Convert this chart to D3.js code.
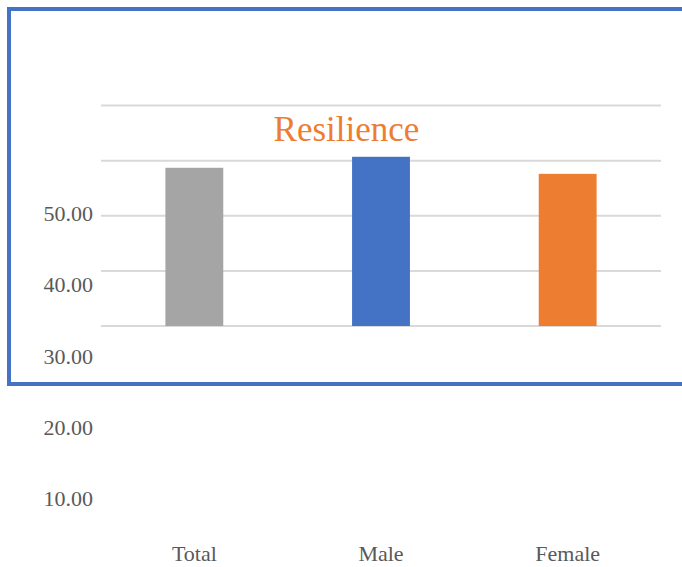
<!DOCTYPE html>
<html>
<head>
<meta charset="utf-8">
<script src="https://cdn.jsdelivr.net/npm/d3@7"></script>
<style>
  html, body { margin: 0; padding: 0; background: #fff; }
  svg { display: block; }
</style>
</head>
<body>
<svg id="chart" width="682" height="567"></svg>
<script>
// Resilience scores by group
const categories = ["Total", "Male", "Female"];
const values = [28.7, 30.7, 27.6];
const barColors = ["#A5A5A5", "#4472C4", "#ED7D31"];
const tickValues = [10, 20, 30, 40, 50];
const tickLabels = ["10.00", "20.00", "30.00", "40.00", "50.00"];
const title = "Resilience";

const svg = d3.select("#chart");
const font = "'Liberation Serif', 'Times New Roman', serif";

// plot geometry
const plot = { left: 101, right: 661, top: 105.5, bottom: 326 };

const x = d3.scaleBand()
  .domain(categories)
  .range([plot.left, plot.right])
  .paddingInner(0.69)
  .paddingOuter(0.345);

const y = d3.scaleLinear()
  .domain([0, 40])
  .range([plot.bottom, plot.top]);

// value labels along the left side
const yLabel = d3.scaleLinear()
  .domain([0, 50])
  .range([577.25, 221]);

// gridlines
svg.append("g")
  .selectAll("line")
  .data(y.ticks(4))
  .join("line")
  .attr("x1", plot.left)
  .attr("x2", plot.right)
  .attr("y1", d => y(d))
  .attr("y2", d => y(d))
  .attr("stroke", "#D9D9D9")
  .attr("stroke-width", 2);

// bars
svg.append("g")
  .selectAll("rect")
  .data(categories)
  .join("rect")
  .attr("x", d => x(d))
  .attr("width", x.bandwidth())
  .attr("y", (d, i) => y(values[i]))
  .attr("height", (d, i) => y(0) - y(values[i]))
  .attr("fill", (d, i) => barColors[i]);

// title
svg.append("text")
  .attr("x", 346.5)
  .attr("y", 141)
  .attr("text-anchor", "middle")
  .attr("font-family", font)
  .attr("font-size", 35)
  .attr("fill", "#ED7D31")
  .text(title);

// outer frame
svg.append("rect")
  .attr("x", 9)
  .attr("y", 9)
  .attr("width", 700)
  .attr("height", 375)
  .attr("fill", "none")
  .attr("stroke", "#4472C4")
  .attr("stroke-width", 4);

// y labels
svg.append("g")
  .selectAll("text")
  .data(tickValues)
  .join("text")
  .attr("x", 93)
  .attr("y", d => yLabel(d))
  .attr("text-anchor", "end")
  .attr("font-family", font)
  .attr("font-size", 22)
  .attr("fill", "#595959")
  .text((d, i) => tickLabels[i]);

// category labels
svg.append("g")
  .selectAll("text")
  .data(categories)
  .join("text")
  .attr("x", d => x(d) + x.bandwidth() / 2)
  .attr("y", 561)
  .attr("text-anchor", "middle")
  .attr("font-family", font)
  .attr("font-size", 22)
  .attr("fill", "#595959")
  .text(d => d);
</script>
</body>
</html>
